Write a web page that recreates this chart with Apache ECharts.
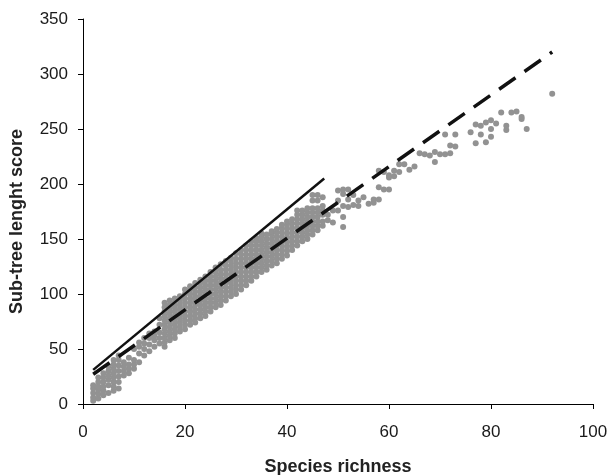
<!DOCTYPE html>
<html>
<head>
<meta charset="utf-8">
<script src="https://cdn.jsdelivr.net/npm/echarts@6/dist/echarts.min.js"></script>
<style>
  html, body { margin: 0; padding: 0; background: #fff; }
  #main { width: 610px; height: 475px; }
</style>
</head>
<body>
<div id="main"></div>
<script>
// species richness -> sub-tree length scores (one list per richness value)
const richness = [2, 3, 4, 5, 6, 7, 8, 9, 10, 11, 12, 13, 14, 15, 16, 17, 18, 19, 20, 21, 22, 23, 24, 25,
  26, 27, 28, 29, 30, 31, 32, 33, 34, 35, 36, 37, 38, 39, 40, 41, 42, 43, 44, 45, 46, 47, 48, 49, 50,
  51, 52, 53, 54, 55, 56, 57, 58, 59, 60, 61, 62, 63, 64, 65, 66, 67, 68, 69, 70, 71, 72, 73, 76, 77,
  78, 79, 80, 81, 82, 83, 84, 85, 86, 87, 92];
const scores = [
  [3, 6, 10, 14, 17], [5, 9, 13, 16, 20, 24], [8, 12, 16, 20, 24, 28], [10, 17, 22, 26, 30, 34],
  [12, 16, 20, 24, 28, 32, 36, 40], [14, 20, 25, 30, 35, 40, 44], [26, 30, 34, 38], [28, 32, 36, 42],
  [32, 36, 40, 50], [38, 46, 52, 56], [44, 50, 55, 60], [48, 54, 60, 64], [52, 58, 62, 66],
  [55, 60, 65, 72, 78],
  [52, 56, 60, 64, 68, 72, 76, 80, 84, 88, 92],
  [58, 62, 66, 70, 74, 78, 82, 86, 90, 94],
  [60, 64, 68, 72, 76, 80, 84, 88, 92, 96],
  [66, 70, 74, 78, 82, 86, 90, 94, 98],
  [68, 72, 76, 80, 84, 88, 92, 96, 100, 104],
  [72, 76, 80, 84, 88, 92, 96, 100, 104, 107],
  [74, 78, 82, 86, 90, 94, 98, 102, 106, 110],
  [78, 82, 86, 90, 94, 98, 102, 106, 110, 113],
  [80, 84, 88, 92, 96, 100, 104, 108, 112, 116],
  [84, 88, 92, 96, 100, 104, 108, 112, 116, 120],
  [88, 92, 96, 100, 104, 108, 112, 116, 120, 124],
  [90, 94, 98, 102, 106, 110, 114, 118, 122, 127],
  [94, 98, 102, 106, 110, 114, 118, 122, 126, 130],
  [98, 102, 106, 110, 114, 118, 122, 126, 130, 133],
  [100, 104, 108, 112, 116, 120, 124, 128, 132, 137],
  [104, 108, 112, 116, 120, 124, 128, 132, 136, 140],
  [108, 112, 116, 120, 124, 128, 132, 136, 140, 144],
  [112, 116, 120, 124, 128, 132, 136, 140, 144, 148],
  [116, 120, 124, 128, 132, 136, 140, 144, 148, 151],
  [120, 124, 128, 132, 136, 140, 144, 148, 152, 155],
  [122, 126, 130, 134, 138, 142, 146, 150, 154],
  [126, 130, 134, 138, 142, 146, 150, 154, 157],
  [128, 132, 136, 140, 144, 148, 152, 156, 159],
  [132, 136, 140, 144, 148, 152, 156, 160, 163],
  [135, 139, 143, 147, 151, 155, 159, 163, 166],
  [140, 144, 148, 152, 156, 160, 164, 168],
  [144, 148, 152, 156, 160, 164, 168, 172, 176],
  [148, 152, 156, 160, 164, 168, 172, 176],
  [150, 154, 158, 162, 166, 170, 174, 178],
  [154, 158, 162, 166, 170, 174, 178, 185, 190],
  [158, 162, 166, 170, 174, 178, 185, 190],
  [162, 166, 172, 176, 180, 188],
  [167, 172], [165, 176], [176, 185, 194], [161, 170, 180, 191, 195], [179, 186, 195], [181, 190],
  [180, 185], [188], [182], [183, 186], [186, 197, 212], [195, 211], [195, 206, 208], [207, 212],
  [211, 218], [218], [213], [216], [228], [227], [226], [220, 229], [227], [227, 245], [228, 235],
  [234, 245], [247], [237, 254], [245, 253], [238, 256], [243, 250, 258], [255], [265], [249, 253],
  [265], [266], [259, 261], [250], [282]
];
// fitted lines (end points)
const solidLine = [[2, 31], [47.3, 205]];
const dashedLine = [[2, 27], [92, 320]];
const xTicks = [0, 20, 40, 60, 80, 100];
const yTicks = [0, 50, 100, 150, 200, 250, 300, 350];

const points = [];
richness.forEach((x, i) => {
  scores[i].forEach((y) => points.push([x, y]));
});

const font = "'Liberation Sans', Arial, sans-serif";
const chart = echarts.init(document.getElementById("main"));
chart.setOption({
  animation: false,
  grid: { left: 83, right: 17, top: 19, bottom: 71, containLabel: false, outerBoundsMode: "none" },
  xAxis: {
    type: "value",
    min: xTicks[0],
    max: xTicks[xTicks.length - 1],
    interval: 20,
    name: "Species richness",
    nameLocation: "middle",
    nameGap: 54,
    nameTextStyle: { fontFamily: font, fontSize: 18, fontWeight: "bold", color: "#222" },
    axisLine: { lineStyle: { color: "#000", width: 1 } },
    axisTick: { length: 5, lineStyle: { color: "#000" } },
    axisLabel: { fontFamily: font, fontSize: 17, color: "#1a1a1a", margin: 20 },
    splitLine: { show: false },
  },
  yAxis: {
    type: "value",
    min: yTicks[0],
    max: yTicks[yTicks.length - 1],
    interval: 50,
    name: "Sub-tree lenght score",
    nameLocation: "middle",
    nameGap: 57,
    nameTextStyle: {
      fontFamily: font, fontSize: 18, fontWeight: "bold", color: "#222",
      padding: [0, 20, 0, 0],
    },
    axisLine: { show: true, lineStyle: { color: "#000", width: 1 } },
    axisTick: { show: true, length: 5, lineStyle: { color: "#000" } },
    axisLabel: { fontFamily: font, fontSize: 17, color: "#1a1a1a", margin: 15 },
    splitLine: { show: false },
  },
  series: [
    {
      type: "scatter",
      data: points,
      symbolSize: 6,
      itemStyle: { color: "#929292", opacity: 1 },
      z: 2,
    },
    {
      type: "line",
      data: solidLine,
      symbol: "none",
      lineStyle: { color: "#111", width: 2.5, type: "solid" },
      z: 3,
    },
    {
      type: "line",
      data: dashedLine,
      symbol: "none",
      lineStyle: { color: "#111", width: 3.5, type: [20, 11] },
      z: 3,
    },
  ],
});
</script>
</body>
</html>
